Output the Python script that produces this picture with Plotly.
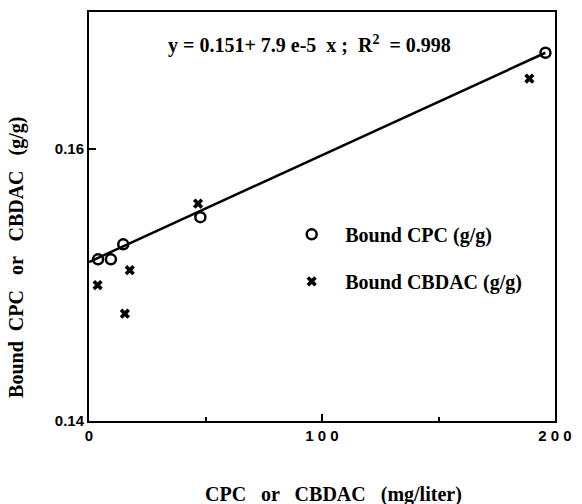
import plotly.graph_objects as go

# Data
cpc_x = [3.9, 9.4, 14.7, 47.8, 195.9]
cpc_y = [0.1519, 0.1519, 0.1530, 0.1550, 0.1671]
cbdac_x = [3.7, 15.4, 17.5, 46.8, 189.0]
cbdac_y = [0.1500, 0.1479, 0.1511, 0.1560, 0.1652]
fit_x = [0, 195.9]
fit_y = [0.1517, 0.1671]

x_tickvals = [0, 100, 200]
x_ticktext = ["0", "1 0 0", "2 0 0"]
y_tickvals = [0.14, 0.16]
y_ticktext = ["0.14", "0.16"]

serif = "Liberation Serif, Times New Roman, serif"
sans = "Liberation Sans, Arial, sans-serif"

fig = go.Figure()
fig.add_trace(go.Scatter(x=fit_x, y=fit_y, mode="lines",
                         line=dict(color="black", width=2.5), showlegend=False))
fig.add_trace(go.Scatter(x=cpc_x, y=cpc_y, mode="markers", name="Bound CPC (g/g)",
                         legendgroup="a",
                         marker=dict(symbol="circle-open", size=10, color="black",
                                     line=dict(width=2.5, color="black"))))
fig.add_trace(go.Scatter(x=cbdac_x, y=cbdac_y, mode="markers", name="Bound CBDAC (g/g)",
                         legendgroup="b",
                         marker=dict(symbol="x", size=9, color="black",
                                     line=dict(width=0))))

fig.update_layout(
    width=582, height=504,
    margin=dict(l=89, r=20, t=10, b=83),
    paper_bgcolor="white", plot_bgcolor="white",
    showlegend=True,
    legend=dict(x=0.406, y=0.504, xanchor="left", yanchor="top",
                font=dict(family=serif, size=20, color="black", weight="bold"),
                tracegroupgap=18, bgcolor="rgba(0,0,0,0)", itemwidth=57),
    xaxis=dict(range=[0, 200], tickvals=x_tickvals, ticktext=x_ticktext,
               ticks="inside", ticklen=7, tickwidth=2, tickcolor="black",
               showline=True, linecolor="black", linewidth=2, mirror=True,
               showgrid=False, zeroline=False,
               tickfont=dict(family=sans, size=15, color="black", weight="bold"),
               minor=dict(tickvals=[50, 150], ticks="inside", ticklen=4,
                          tickwidth=2, tickcolor="black")),
    yaxis=dict(range=[0.14, 0.1701], tickvals=y_tickvals, ticktext=y_ticktext,
               ticks="inside", ticklen=7, tickwidth=2, tickcolor="black",
               showline=True, linecolor="black", linewidth=2, mirror=True,
               showgrid=False, zeroline=False,
               tickfont=dict(family=sans, size=15, color="black", weight="bold")),
    annotations=[
        dict(text="y = 0.151+ 7.9 e-5  x ;  R<sup>2</sup>  = 0.998",
             xref="paper", yref="paper", x=(313 - 89) / 473, y=(421 - 43) / 411,
             xanchor="center", yanchor="middle", showarrow=False,
             font=dict(family=serif, size=20, color="black", weight="bold")),
        dict(text="CPC   or   CBDAC   (mg/liter)",
             xref="paper", yref="paper", x=(337 - 89) / 473, y=-(495 - 421) / 411,
             xanchor="center", yanchor="middle", showarrow=False,
             font=dict(family=serif, size=20, color="black", weight="bold")),
        dict(text="Bound  CPC   or   CBDAC   (g/g)",
             xref="paper", yref="paper", x=-(89 - 16) / 473, y=(421 - 257) / 411,
             xanchor="center", yanchor="middle", showarrow=False, textangle=-90,
             font=dict(family=serif, size=20, color="black", weight="bold")),
    ],
)

fig.write_html("out.html")
